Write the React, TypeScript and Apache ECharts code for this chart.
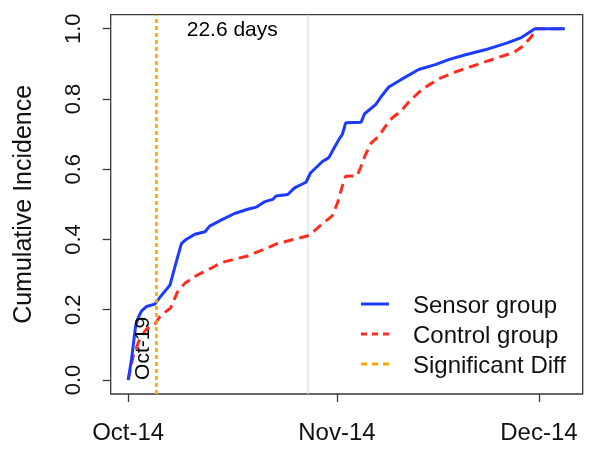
import React, { useEffect, useRef } from "react";
import * as echarts from "echarts";

// x values: days after the first tick date (Oct-14)
const tickDays = [0, 31, 61];
const tickLabels = ["Oct-14", "Nov-14", "Dec-14"];
const yTicks = [0, 0.2, 0.4, 0.6, 0.8, 1.0];

const sensorDays = [0, 0.5, 1.1, 1.5, 2.0, 2.7, 3.95, 4.7, 6.2, 6.9, 7.9, 8.6, 9.9, 11.4, 12.1, 14.0, 15.8, 17.75, 19.0, 20.2, 21.45, 21.95, 23.7, 24.7, 26.4, 27.1, 28.85, 29.8, 30.6, 31.3, 31.8, 32.3, 34.6, 35.1, 36.75, 37.7, 38.7, 40.5, 43.15, 45.6, 47.6, 50.1, 53.0, 56.2, 58.4, 60.4, 64.85];
const sensorValues = [0, 0.06, 0.154, 0.178, 0.197, 0.209, 0.216, 0.235, 0.27, 0.32, 0.388, 0.4, 0.415, 0.422, 0.438, 0.457, 0.474, 0.486, 0.492, 0.507, 0.514, 0.524, 0.528, 0.547, 0.563, 0.59, 0.622, 0.633, 0.661, 0.685, 0.699, 0.732, 0.734, 0.758, 0.784, 0.81, 0.834, 0.855, 0.884, 0.898, 0.912, 0.926, 0.94, 0.959, 0.975, 1.0, 1.0];

const controlDays = [0, 0.75, 1.7, 2.7, 3.95, 4.7, 5.4, 6.3, 7.3, 8.4, 10.2, 12.5, 13.8, 15.8, 17.75, 19.0, 20.2, 21.95, 24.5, 26.6, 27.6, 28.85, 30.3, 31.1, 31.8, 32.3, 34.0, 34.5, 35.2, 36.1, 37.2, 38.2, 39.2, 40.5, 41.7, 43.6, 46.1, 48.6, 51.8, 54.8, 57.3, 58.6, 59.9, 60.4, 64.85];
const controlValues = [0, 0.069, 0.116, 0.145, 0.159, 0.18, 0.192, 0.205, 0.25, 0.275, 0.298, 0.32, 0.334, 0.344, 0.353, 0.363, 0.372, 0.387, 0.4, 0.41, 0.424, 0.445, 0.467, 0.505, 0.552, 0.58, 0.581, 0.604, 0.64, 0.675, 0.694, 0.722, 0.746, 0.765, 0.792, 0.827, 0.857, 0.877, 0.898, 0.917, 0.933, 0.95, 0.978, 1.0, 1.0];

const sigDiffDay = 4.2;
const secondLineDay = 26.7;
const daysText = "22.6 days";
const sigDateText = "Oct-19";

const xMin = -2.6;
const xMax = 67.5;
const yMin = -0.04;
const yMax = 1.04;

const FONT = "Liberation Sans, Arial, Helvetica, sans-serif";

const SOLID_ICON = "path://M0,0H28V3H0Z";
const DASH_ICON = "path://M0,0H6V3H0Z M11,0H17V3H11Z M22,0H28V3H22Z";

export default function App() {
  const ref = useRef<HTMLDivElement>(null);

  useEffect(() => {
    if (!ref.current) return;
    const chart = echarts.init(ref.current, null, { renderer: "svg" });
    const zip = (xs: number[], ys: number[]) => xs.map((x, i) => [x, ys[i]]);

    const annotationLabel = {
      show: true,
      position: "inside",
      fontSize: 21,
      fontFamily: FONT,
      color: "#000",
      textBorderWidth: 0,
      textBorderColor: "transparent",
      textShadowBlur: 0,
    };

    chart.setOption({
      animation: false,
      textStyle: { fontFamily: FONT },
      grid: {
        left: 110.7,
        top: 14.7,
        right: 6.3,
        bottom: 62,
        show: true,
        borderColor: "#3a3a3a",
        borderWidth: 1.3,
        backgroundColor: "transparent",
      },
      legend: {
        orient: "vertical",
        left: 361,
        top: 292,
        padding: 0,
        itemGap: 6,
        itemWidth: 28,
        itemHeight: 3,
        itemStyle: { borderWidth: 0 },
        data: [
          { name: "Sensor group", icon: SOLID_ICON },
          { name: "Control group", icon: DASH_ICON },
          { name: "Significant Diff", icon: DASH_ICON },
        ],
        textStyle: {
          fontFamily: FONT,
          fontSize: 24,
          lineHeight: 24,
          color: "#111",
          padding: [0, 0, 0, 19],
        },
      },
      xAxis: {
        type: "value",
        min: xMin,
        max: xMax,
        splitLine: { show: false },
        axisLine: { show: false, onZero: false },
        axisTick: {
          show: true,
          inside: false,
          length: 8,
          customValues: tickDays,
          lineStyle: { color: "#3a3a3a", width: 1.3 },
        },
        axisLabel: {
          customValues: tickDays,
          formatter: (v: number) => {
            const i = tickDays.indexOf(v);
            return i >= 0 ? tickLabels[i] : "";
          },
          fontSize: 24,
          fontFamily: FONT,
          color: "#111",
          margin: 25,
        },
      },
      yAxis: {
        type: "value",
        min: yMin,
        max: yMax,
        name: "Cumulative Incidence",
        nameLocation: "middle",
        nameRotate: 90,
        nameGap: 76,
        nameTextStyle: { fontSize: 25, fontFamily: FONT, color: "#111" },
        splitLine: { show: false },
        axisLine: { show: false, onZero: false },
        axisTick: {
          show: true,
          inside: false,
          length: 8,
          customValues: yTicks,
          lineStyle: { color: "#3a3a3a", width: 1.3 },
        },
        axisLabel: {
          customValues: yTicks,
          formatter: (v: number) => v.toFixed(1),
          rotate: 90,
          fontSize: 22,
          fontFamily: FONT,
          color: "#111",
          margin: 27,
        },
      },
      series: [
        {
          name: "",
          type: "line",
          data: [[secondLineDay, yMin], [secondLineDay, yMax]],
          symbol: "none",
          lineStyle: { color: "#cfe4ee", width: 1.2 },
          silent: true,
          z: 1,
        },
        {
          name: "Control group",
          type: "line",
          data: zip(controlDays, controlValues),
          symbol: "none",
          lineStyle: { color: "#ff2d1f", width: 3, type: [10, 6] },
          itemStyle: { color: "#ff2d1f" },
          z: 2,
        },
        {
          name: "Sensor group",
          type: "line",
          data: zip(sensorDays, sensorValues),
          symbol: "none",
          lineStyle: { color: "#1b3cff", width: 3 },
          itemStyle: { color: "#1b3cff" },
          z: 3,
        },
        {
          name: "Significant Diff",
          type: "line",
          data: [[sigDiffDay, yMin], [sigDiffDay, yMax]],
          symbol: "none",
          lineStyle: { color: "#ffa500", width: 2.6, type: [4, 3] },
          itemStyle: { color: "#ffa500" },
          z: 4,
        },
        {
          name: "annotations",
          type: "scatter",
          symbolSize: 0,
          silent: true,
          z: 5,
          itemStyle: { color: "#000", opacity: 1 },
          data: [
            {
              value: [(sigDiffDay + secondLineDay) / 2, 1.0],
              label: { ...annotationLabel, formatter: daysText },
            },
            {
              value: [sigDiffDay - 2.2, 0],
              label: {
                ...annotationLabel,
                formatter: sigDateText,
                rotate: 90,
                align: "left",
                verticalAlign: "middle",
              },
            },
          ],
        },
      ],
    });

    return () => chart.dispose();
  }, []);

  return (
    <div
      ref={ref}
      style={{ position: "fixed", left: 0, top: 0, width: 589, height: 456 }}
    />
  );
}
